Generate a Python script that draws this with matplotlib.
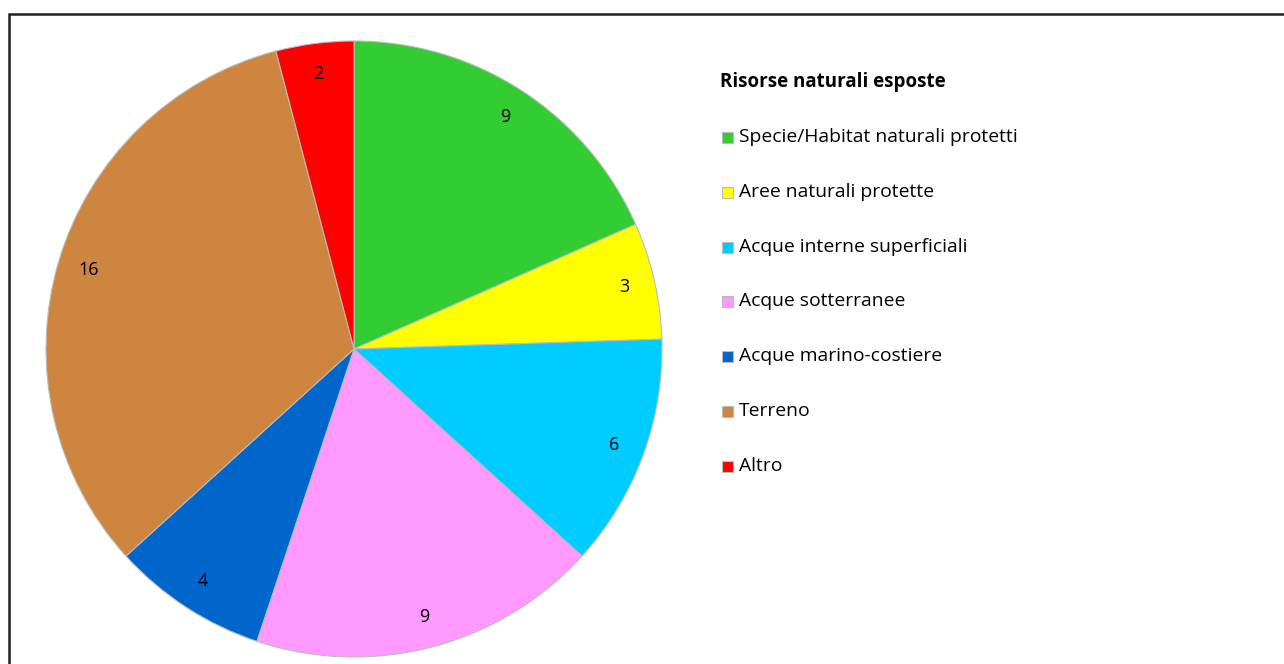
import matplotlib
matplotlib.use("Agg")
import matplotlib.pyplot as plt
from matplotlib.patches import Rectangle

plt.rcParams['font.family'] = ['Open Sans', 'DejaVu Sans']

legend_title = "Risorse naturali esposte"
categories = ["Specie/Habitat naturali protetti", "Aree naturali protette",
              "Acque interne superficiali", "Acque sotterranee",
              "Acque marino-costiere", "Terreno", "Altro"]
values = [9, 3, 6, 9, 4, 16, 2]
colors = ["#33CC33", "#FFFF00", "#00CCFF", "#FF99FF", "#0066CC", "#CD853F", "#FF0000"]

W, H = 1284, 664
fig = plt.figure(figsize=(W / 100, H / 100), dpi=100)

# frame
frame = Rectangle((8.5 / W, -0.1), 1.2, (H - 14) / H + 0.1, transform=fig.transFigure,
                  fill=False, edgecolor="#222222", linewidth=1.8, zorder=0)
fig.patches.append(frame)

cx, cy, r = 354, 349, 308
ax = fig.add_axes([(cx - r) / W, (H - cy - r) / H, 2 * r / W, 2 * r / H])
wedges, texts = ax.pie(values, colors=colors, startangle=90, counterclock=False,
                       labels=[str(v) for v in values], labeldistance=0.9,
                       wedgeprops=dict(edgecolor="#BBBBBB", linewidth=0.8),
                       textprops=dict(fontsize=13, color="black"))
for t in texts:
    t.set_horizontalalignment("center")
    t.set_verticalalignment("center")
ax.set_xlim(-1, 1)
ax.set_ylim(-1, 1)
ax.set_aspect("equal")

# legend
fig.text(720 / W, 1 - 82 / H, legend_title, fontsize=13.5, fontweight="bold",
         ha="left", va="center")
y0, dy = 137, 54.8
for i, (cat, col) in enumerate(zip(categories, colors)):
    y = y0 + i * dy
    fig.patches.append(Rectangle((722 / W, 1 - (y + 6) / H), 11 / W, 11 / H,
                                 transform=fig.transFigure, facecolor=col,
                                 edgecolor="#BBBBBB", linewidth=0.8))
    fig.text(739 / W, 1 - y / H, cat, fontsize=13.85, ha="left", va="center")

fig.savefig("out.png", dpi=100)
